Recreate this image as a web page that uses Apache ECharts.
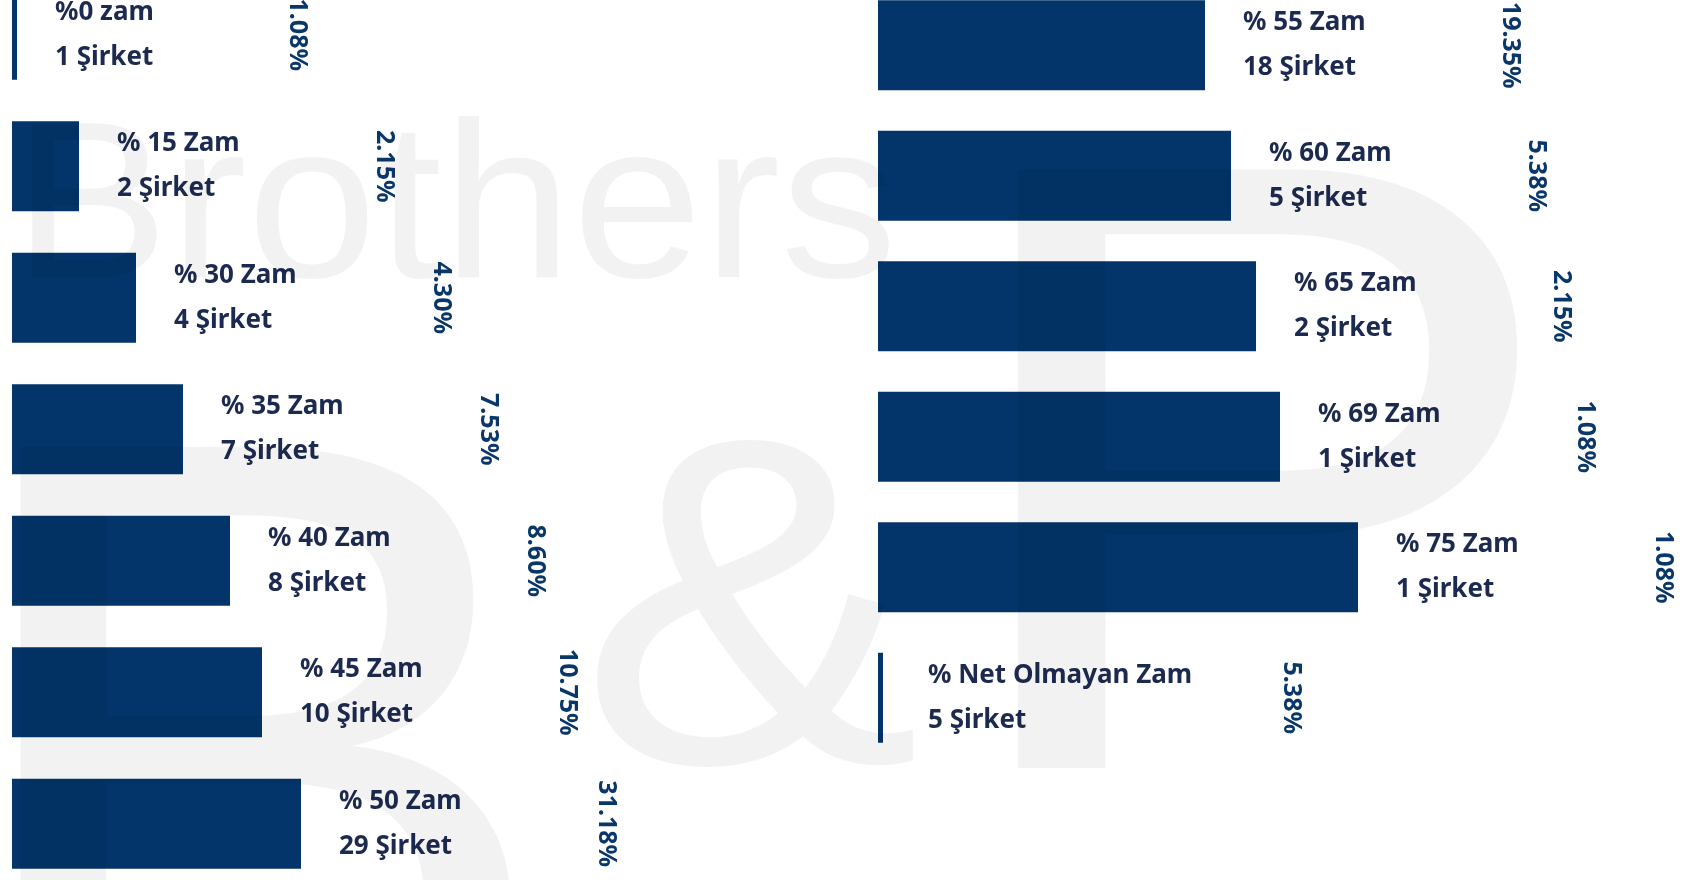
<!DOCTYPE html>
<html>
<head>
<meta charset="utf-8">
<script src="https://cdn.jsdelivr.net/npm/echarts@6/dist/echarts.min.js"></script>
<style>
html,body{margin:0;padding:0;background:#ffffff;}
#chart{width:1686px;height:880px;}
</style>
</head>
<body>
<div id="chart"></div>
<script>
// ---- data ----
const leftCategories = ['%0 zam', '% 15 Zam', '% 30 Zam', '% 35 Zam', '% 40 Zam', '% 45 Zam', '% 50 Zam'];
const leftCompanies = [1, 2, 4, 7, 8, 10, 29];
const leftPercent = ['1.08%', '2.15%', '4.30%', '7.53%', '8.60%', '10.75%', '31.18%'];
const leftBarLength = [5, 67, 124, 171, 218, 250, 289];

const rightCategories = ['% 55 Zam', '% 60 Zam', '% 65 Zam', '% 69 Zam', '% 75 Zam', '% Net Olmayan Zam'];
const rightCompanies = [18, 5, 2, 1, 1, 5];
const rightPercent = ['19.35%', '5.38%', '2.15%', '1.08%', '1.08%', '5.38%'];
const rightBarLength = [327, 353, 378, 402, 480, 5];

const companyWord = 'Şirket';

// ---- styles ----
const BAR_COLOR = '#03356a';
const TEXT_COLOR = '#1d2a50';
const PCT_COLOR = '#0a376a';
const FONT = '"Noto Sans", "Open Sans", sans-serif';
const TEXT_GAP = 38;
const PCT_GAP = 305;
const leftPctGap = {0: 280};
const rightPctGap = {5: 408};
const rightTextGap = {5: 45};

function mainSeries(lengths, cats, comps, axisIdx, textGaps) {
  return {
    type: 'bar',
    xAxisIndex: axisIdx, yAxisIndex: axisIdx,
    barWidth: 90,
    silent: true,
    itemStyle: { color: BAR_COLOR },
    data: lengths.map((v, i) => ({
      value: v,
      label: { distance: textGaps[i] !== undefined ? textGaps[i] : TEXT_GAP }
    })),
    label: {
      show: true,
      position: 'right',
      formatter: p => '{a|' + cats[p.dataIndex] + '}\n{b|' + comps[p.dataIndex] + ' ' + companyWord + '}',
      rich: {
        a: { fontFamily: FONT, fontWeight: 'bold', fontSize: 26, lineHeight: 45, color: TEXT_COLOR },
        b: { fontFamily: FONT, fontWeight: 'bold', fontSize: 26, lineHeight: 45, color: TEXT_COLOR }
      }
    },
    z: 3
  };
}
function pctSeries(lengths, pcts, axisIdx, gaps) {
  return {
    type: 'bar',
    xAxisIndex: axisIdx, yAxisIndex: axisIdx,
    barWidth: 90,
    barGap: '-100%',
    silent: true,
    itemStyle: { color: 'rgba(0,0,0,0)' },
    data: lengths.map((v, i) => ({
      value: v,
      label: { distance: gaps[i] !== undefined ? gaps[i] : PCT_GAP }
    })),
    label: {
      show: true,
      position: 'right',
      rotate: -90,
      align: 'center',
      verticalAlign: 'middle',
      formatter: p => pcts[p.dataIndex],
      fontFamily: FONT, fontWeight: 'bold', fontSize: 25, color: PCT_COLOR
    },
    z: 3
  };
}

const WM = 'rgba(0,0,0,0.05)';
const WMF = '"Liberation Sans", Arial, sans-serif';
const option = {
  backgroundColor: '#ffffff',
  animation: false,
  grid: [
    { left: 12, top: -31, width: 800, height: 920.5, outerBoundsMode: 'none', containLabel: false },
    { left: 878, top: -20, width: 800, height: 783, outerBoundsMode: 'none', containLabel: false }
  ],
  xAxis: [
    { gridIndex: 0, type: 'value', min: 0, max: 800, show: false },
    { gridIndex: 1, type: 'value', min: 0, max: 800, show: false }
  ],
  yAxis: [
    { gridIndex: 0, type: 'category', inverse: true, data: leftCategories, show: false },
    { gridIndex: 1, type: 'category', inverse: true, data: rightCategories, show: false }
  ],
  series: [
    mainSeries(leftBarLength, leftCategories, leftCompanies, 0, {}),
    pctSeries(leftBarLength, leftPercent, 0, leftPctGap),
    mainSeries(rightBarLength, rightCategories, rightCompanies, 1, rightTextGap),
    pctSeries(rightBarLength, rightPercent, 1, rightPctGap)
  ],
  graphic: [
    { type: 'text', x: 13, y: 216, scaleX: 1.054, silent: true, z: 100,
      style: { text: 'Brothers', font: '222px ' + WMF, fill: WM, align: 'left', verticalAlign: 'middle' } },
    { type: 'text', x: -55, y: 826, silent: true, z: 100,
      style: { text: 'B', font: '920px ' + WMF, fill: WM, align: 'left', verticalAlign: 'middle' } },
    { type: 'text', x: 579, y: 634, scaleX: 1.1, silent: true, z: 100,
      style: { text: '&', font: '466px ' + WMF, fill: WM, align: 'left', verticalAlign: 'middle' } },
    { type: 'text', x: 941, y: 528, scaleX: 1.078, silent: true, z: 100,
      style: { text: 'P', font: '870px ' + WMF, fill: WM, align: 'left', verticalAlign: 'middle' } }
  ]
};
const chart = echarts.init(document.getElementById('chart'));
chart.setOption(option);
</script>
</body>
</html>
